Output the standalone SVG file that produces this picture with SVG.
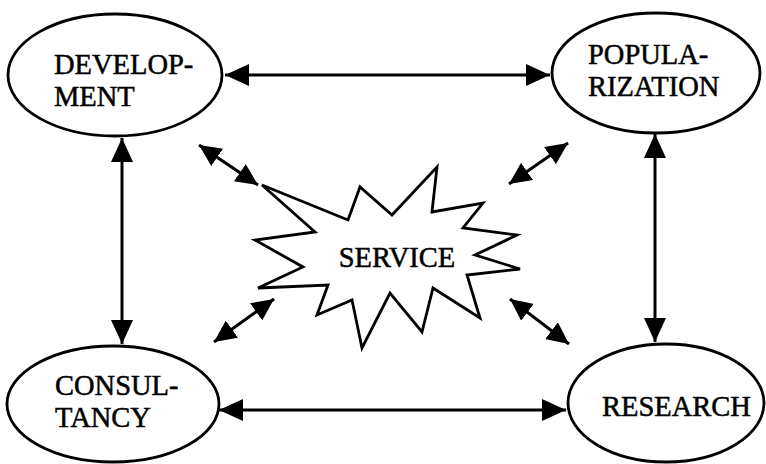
<svg xmlns="http://www.w3.org/2000/svg" width="766" height="464" viewBox="0 0 766 464">
<style>
.node{fill:#fff;stroke:#000;stroke-width:2.8}
.lbl{font-family:"Liberation Serif","Times New Roman",serif;font-size:28.5px;fill:#000;stroke:#000;stroke-width:0.5}
.con{stroke:#000;stroke-width:3;fill:none}
</style>
<defs>
<marker id="ah" markerUnits="userSpaceOnUse" markerWidth="26" markerHeight="22" refX="24" refY="11" orient="auto-start-reverse" viewBox="0 0 26 22">
<path d="M0,0 L24,11 L0,22 z" fill="#000"/>
</marker>
<marker id="ahs" markerUnits="userSpaceOnUse" markerWidth="24" markerHeight="21" refX="22" refY="10.5" orient="auto-start-reverse" viewBox="0 0 24 21">
<path d="M0,0 L22,10.5 L0,21 z" fill="#000"/>
</marker>
</defs>
<rect width="766" height="464" fill="#fff"/>
<g id="connectors">
<line class="con" x1="225" y1="75" x2="550" y2="75" marker-start="url(#ah)" marker-end="url(#ah)"/>
<line class="con" x1="219" y1="410" x2="566" y2="410" marker-start="url(#ah)" marker-end="url(#ah)"/>
<line class="con" x1="122" y1="138" x2="122" y2="344" marker-start="url(#ah)" marker-end="url(#ah)"/>
<line class="con" x1="655" y1="134" x2="655" y2="342" marker-start="url(#ah)" marker-end="url(#ah)"/>
<line class="con" x1="199" y1="145" x2="258" y2="185" marker-start="url(#ahs)" marker-end="url(#ahs)"/>
<line class="con" x1="568" y1="143" x2="509" y2="184" marker-start="url(#ahs)" marker-end="url(#ahs)"/>
<line class="con" x1="274" y1="299" x2="214" y2="342" marker-start="url(#ahs)" marker-end="url(#ahs)"/>
<line class="con" x1="510" y1="299" x2="569" y2="344" marker-start="url(#ahs)" marker-end="url(#ahs)"/>
</g>
<g id="service">
<polygon class="node" stroke-width="3.2" stroke-linejoin="miter" points="262,185 348,220 360,187 392,215 437,167 432,212 483,203 463,228 517,235 475,255 520,269 467,275 480,318 433,288 422,332 390,293 362,348 352,300 317,315 328,285 258,288 303,267 255,240 315,232"/>
<text class="lbl" x="397" y="267" text-anchor="middle">SERVICE</text>
</g>
<g id="development">
<ellipse class="node" cx="115" cy="75" rx="107" ry="61"/>
<text class="lbl" x="54" y="74">DEVELOP-</text>
<text class="lbl" x="54" y="106">MENT</text>
</g>
<g id="popularization">
<ellipse class="node" cx="656" cy="73" rx="104" ry="60"/>
<text class="lbl" x="588" y="64">POPULA-</text>
<text class="lbl" x="588" y="96">RIZATION</text>
</g>
<g id="consultancy">
<ellipse class="node" cx="113" cy="404" rx="106" ry="58"/>
<text class="lbl" x="55" y="395">CONSUL-</text>
<text class="lbl" x="55" y="427">TANCY</text>
</g>
<g id="research">
<ellipse class="node" cx="666" cy="403" rx="98" ry="59"/>
<text class="lbl" x="602" y="416">RESEARCH</text>
</g>
</svg>
